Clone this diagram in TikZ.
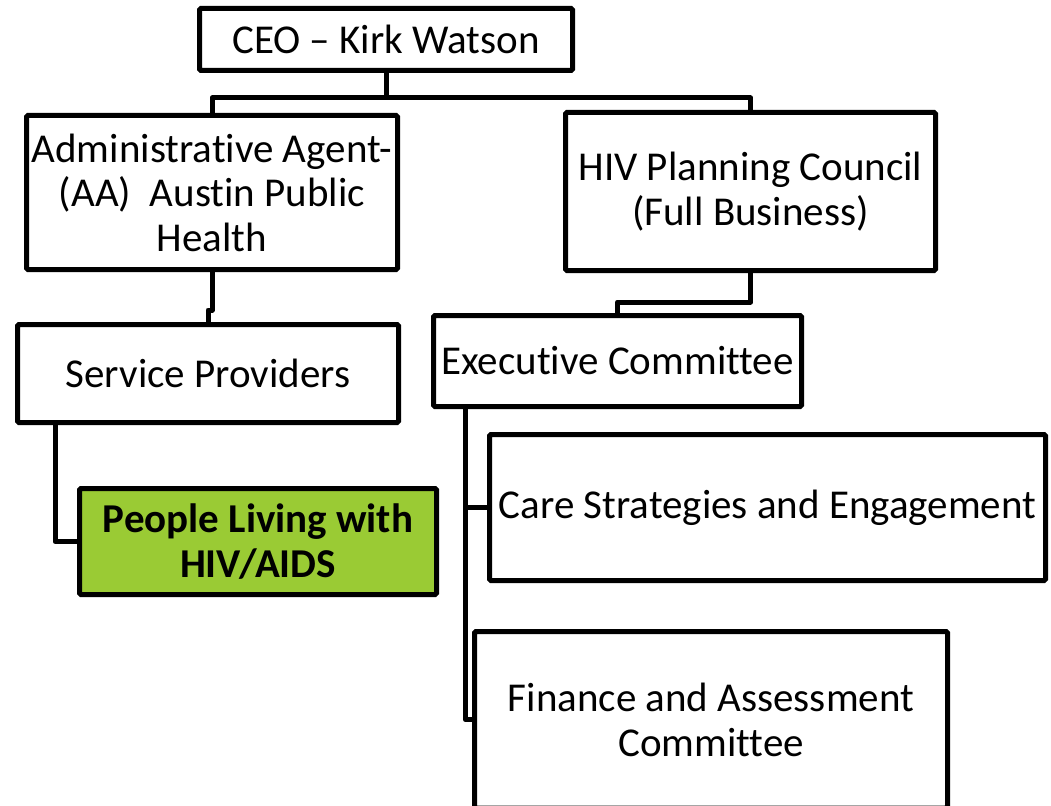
\documentclass[tikz,border=0pt]{standalone}
\usepackage{fontspec}
\setmainfont[Ligatures=NoCommon]{Carlito}
\definecolor{leafgreen}{RGB}{154,203,52}
\begin{document}
\begin{tikzpicture}[x=1pt,y=-1pt,
  box/.style={draw=black, line width=5pt, fill=white, rectangle, rounded corners=1.5pt,
    inner sep=0pt, align=center, font=\fontsize{41}{44.5}\selectfont},
  link/.style={draw=black, line width=5pt, line join=round}]
\useasboundingbox (0,0) rectangle (1051,805);
\clip (0,0) rectangle (1051,805);
\fill[white] (0,0) rectangle (1051,805);

% boxes
\node[box, minimum width=373, minimum height=62] (ceo) at (386,39.5) {CEO -- Kirk Watson};
\node[box, minimum width=371, minimum height=154] (admin) at (212,192.5)
  {Administrative Agent-\\(AA)\ \ Austin Public\\Health};
\node[box, minimum width=370, minimum height=158] (hiv) at (750.5,191.5)
  {HIV Planning Council\\(Full Business)};
\node[box, minimum width=381, minimum height=98] (service) at (208,373.5) {Service Providers};
\node[box, minimum width=368, minimum height=91] (exec) at (617.5,361) {Executive Committee};
\node[box, minimum width=556, minimum height=146] (care) at (767.5,507.5)
  {Care Strategies and Engagement};
\node[box, minimum width=473, minimum height=176.5] (finance) at (711,719.75)
  {Finance and Assessment\\Committee};
\node[box, fill=leafgreen, minimum width=357, minimum height=106,
  font=\fontsize{41}{44.5}\selectfont\bfseries] (people) at (258,541.5)
  {People Living with\\HIV/AIDS};

% connectors
\draw[link] (ceo.south) -- ++(0,25) -| (admin.north);
\draw[link] (ceo.south) -- ++(0,25) -| (hiv.north);
\draw[link] (admin.south) -- ++(0,38) -| (service.north);
\draw[link] ([xshift=40pt]service.south west) |- (people.west);
\draw[link] (hiv.south) -- ++(0,29) -| (exec.north);
\draw[link] ([xshift=34.5pt]exec.south west) |- (care.west);
\draw[link] ([xshift=34.5pt]exec.south west) |- (finance.west);
\end{tikzpicture}
\end{document}
